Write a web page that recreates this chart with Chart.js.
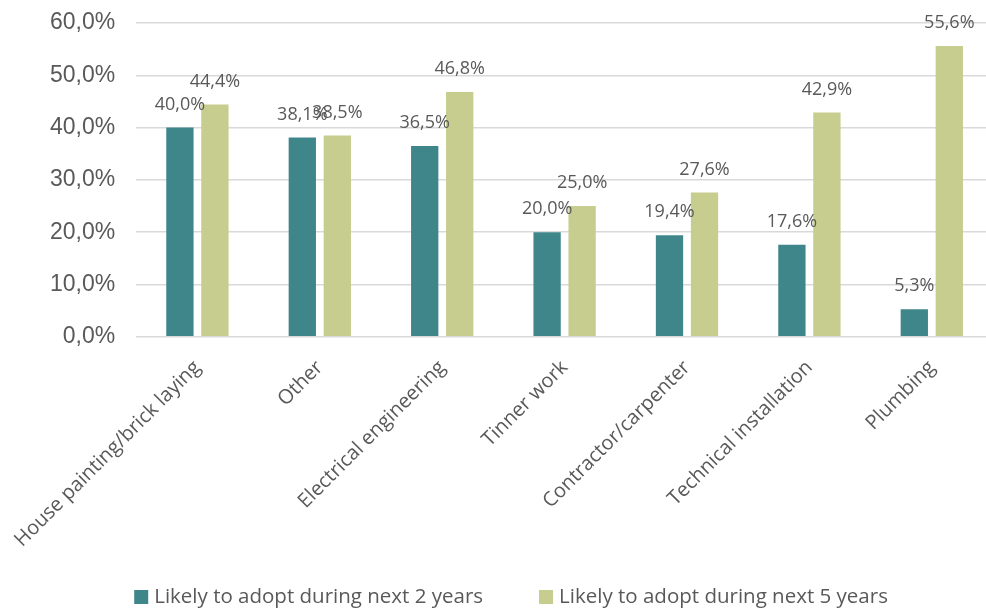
<!DOCTYPE html>
<html>
<head>
<meta charset="utf-8">
<title>Adoption by trade</title>
<script src="https://cdn.jsdelivr.net/npm/chart.js@4.4.1/dist/chart.umd.min.js"></script>
<style>
  html, body { margin: 0; padding: 0; background: #fff; overflow: hidden; }
  /* plot runs a few px past the right edge of the window, like the gridlines do */
  #chart-wrap { width: 993px; height: 611px; position: relative; }
</style>
</head>
<body>
<div id="chart-wrap"><canvas id="chart"></canvas></div>
<script>
const trades = [
    'House painting/brick laying',
    'Other',
    'Electrical engineering',
    'Tinner work',
    'Contractor/carpenter',
    'Technical installation',
    'Plumbing',
];
const next2Years = [40.0, 38.1, 36.5, 20.0, 19.4, 17.6, 5.3];
const next5Years = [44.4, 38.5, 46.8, 25.0, 27.6, 42.9, 55.6];
const seriesNames = ['Likely to adopt during next 2 years', 'Likely to adopt during next 5 years'];
const seriesColors = ['#3f868b', '#c6cd8e'];
const yTicks = [0, 10, 20, 30, 40, 50, 60];

const textColor = '#595959';

function pct(v) {
    return v.toFixed(1).replace('.', ',') + '%';
}

// value labels above every bar
const barLabels = {
    id: 'barLabels',
    afterDatasetsDraw(chart) {
        const ctx = chart.ctx;
        ctx.save();
        ctx.font = '18px "Open Sans", sans-serif';
        ctx.fillStyle = textColor;
        ctx.textAlign = 'center';
        ctx.textBaseline = 'middle';
        chart.data.datasets.forEach((ds, i) => {
            chart.getDatasetMeta(i).data.forEach((bar, j) => {
                ctx.fillText(pct(ds.data[j]), bar.x, bar.y - 23);
            });
        });
        ctx.restore();
    },
};

// legend row under the axis labels, squares + text with a wide gap
const bottomLegend = {
    id: 'bottomLegend',
    afterDraw(chart) {
        const ctx = chart.ctx;
        const box = 14;
        const gap = 56;
        const y = 597;
        let x = chart.chartArea.left - 2;
        ctx.save();
        ctx.font = '20.5px "Open Sans", sans-serif';
        ctx.textBaseline = 'middle';
        chart.data.datasets.forEach((ds) => {
            ctx.fillStyle = ds.backgroundColor;
            ctx.fillRect(x, y - box / 2, box, box);
            x += box + 6;
            ctx.fillStyle = textColor;
            ctx.fillText(ds.label, x, y);
            x += ctx.measureText(ds.label).width + gap;
        });
        ctx.restore();
    },
};

const ctx = document.getElementById('chart').getContext('2d');
new Chart(ctx, {
    type: 'bar',
    data: {
        labels: trades,
        datasets: [
            { label: seriesNames[0], data: next2Years, backgroundColor: seriesColors[0] },
            { label: seriesNames[1], data: next5Years, backgroundColor: seriesColors[1] },
        ],
    },
    options: {
        responsive: true,
        maintainAspectRatio: false,
        animation: false,
        layout: {
            padding: { top: 23, left: 29, right: 0, bottom: 48 },
        },
        datasets: {
            bar: {
                categoryPercentage: 0.572,
                barPercentage: 0.78,
            },
        },
        plugins: {
            legend: { display: false },
            tooltip: { enabled: false },
        },
        scales: {
            x: {
                grid: { display: false },
                border: { display: false },
                // long first label hangs out to the left, don't let it push the plot
                afterFit(scale) {
                    scale.paddingLeft = 0;
                },
                ticks: {
                    autoSkip: false,
                    minRotation: 45,
                    maxRotation: 45,
                    padding: 11,
                    color: textColor,
                    font: { family: '"Open Sans", sans-serif', size: 20 },
                },
            },
            y: {
                min: 0,
                max: 60,
                afterBuildTicks(scale) {
                    scale.ticks = yTicks.map(v => ({ value: v }));
                },
                // top is set by layout padding, not by the tick padding
                afterFit(scale) {
                    scale.paddingTop = 0;
                },
                border: { display: false },
                grid: {
                    color: '#d9d9d9',
                    lineWidth: 1.5,
                    drawTicks: false,
                },
                ticks: {
                    padding: 21,
                    color: textColor,
                    font: { family: '"Liberation Sans", Arial, sans-serif', size: 23 },
                    callback: v => pct(v),
                },
            },
        },
    },
    plugins: [barLabels, bottomLegend],
});
</script>
</body>
</html>
